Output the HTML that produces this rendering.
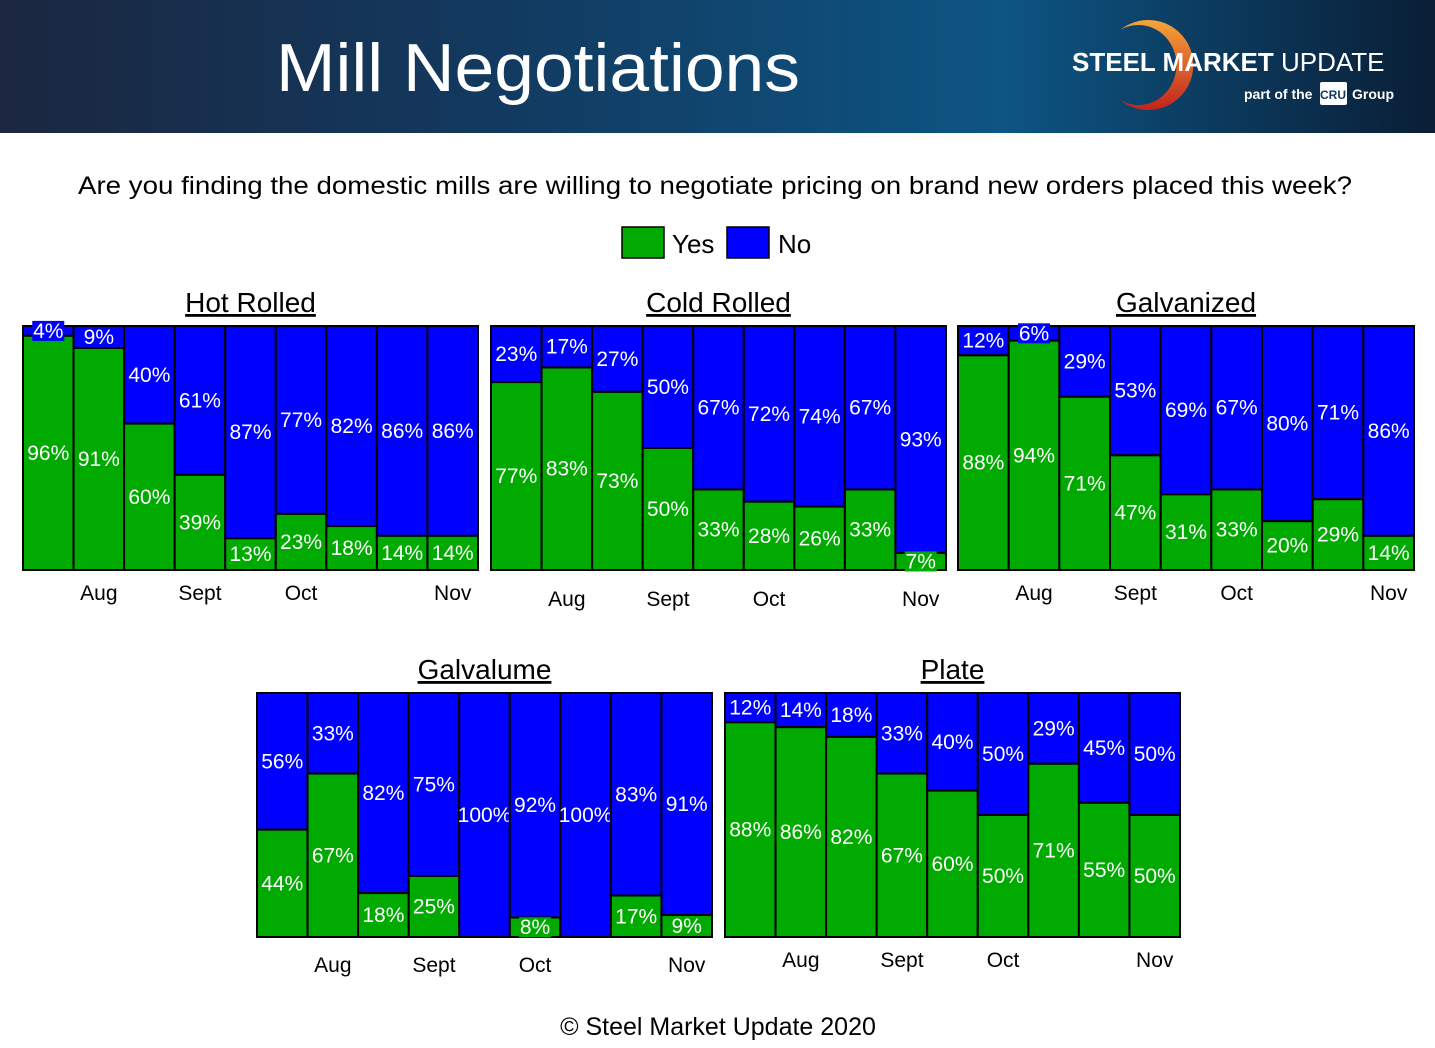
<!DOCTYPE html>
<html><head><meta charset="utf-8"><style>
body{margin:0;width:1435px;height:1048px;background:#fff;overflow:hidden;font-family:"Liberation Sans",sans-serif}
#hdr{position:absolute;left:0;top:0;width:1435px;height:133px;background:linear-gradient(90deg,#1b2740 0%,#123a60 35%,#0d5583 70%,#0a1e36 100%)}
</style></head><body>
<div id="hdr"></div>
<svg id="svg" width="1435" height="1048" style="position:absolute;left:0;top:0">
<text x="276" y="91" font-size="68" fill="#fff" textLength="524" lengthAdjust="spacingAndGlyphs">Mill Negotiations</text>
<g>
<defs><linearGradient id="og" x1="0" y1="0" x2="0" y2="1"><stop offset="0" stop-color="#f6a53a"/><stop offset="1" stop-color="#c2231d"/></linearGradient></defs>
<path d="M1120,30 A45,45 0 1 1 1120,100 A38,40 0 1 0 1120,30 Z" fill="url(#og)"/>
<text x="1072" y="71" font-size="26" fill="#fff" font-weight="bold">STEEL MARKET <tspan font-weight="normal">UPDATE</tspan></text>
<text x="1244" y="99" font-size="14" fill="#fff" font-weight="bold">part of the</text>
<rect x="1320" y="82" width="27" height="23" rx="2" fill="#fff"/>
<text x="1333" y="99" font-size="12" fill="#123a60" font-weight="bold" text-anchor="middle">CRU</text>
<text x="1352" y="99" font-size="14" fill="#fff" font-weight="bold">Group</text>
</g>
<text x="78" y="194" font-size="25" fill="#000" textLength="1274" lengthAdjust="spacingAndGlyphs">Are you finding the domestic mills are willing to negotiate pricing on brand new orders placed this week?</text>
<g>
<rect x="622" y="227" width="42" height="31" fill="#00aa00" stroke="#000" stroke-width="1.5"/>
<text x="672" y="253" font-size="26">Yes</text>
<rect x="727" y="227" width="42" height="31" fill="#0000ff" stroke="#000" stroke-width="1.5"/>
<text x="778" y="253" font-size="26">No</text>
</g>
<g id="charts"></g>
<text x="718" y="1035" font-size="25" text-anchor="middle">© Steel Market Update 2020</text>
</svg>
<script>
const hotRolledYes=[96,91,60,39,13,23,18,14,14];
const coldRolledYes=[77,83,73,50,33,28,26,33,7];
const galvanizedYes=[88,94,71,47,31,33,20,29,14];
const galvalumeYes=[44,67,18,25,0,8,0,17,9];
const plateYes=[88,86,82,67,60,50,71,55,50];
const monthLabels=["Aug","Sept","Oct","Nov"];
const monthBarIndex=[1,3,5,8];
const NS="http://www.w3.org/2000/svg";
const root=document.getElementById('charts');
function mk(t,a,p){const e=document.createElementNS(NS,t);for(const k in a)e.setAttribute(k,a[k]);p.appendChild(e);return e;}
function chart(name,title,yes,x0,y0,w,h,labY){
  const g=mk('g',{},root);
  
  
  const cx=x0+w/2;
  const t=mk('text',{x:cx,y:y0-14,'font-size':28,'text-anchor':'middle','text-decoration':'underline'},g);
  t.textContent=title;
  
  
  const bw=w/yes.length;
  const ys=v=>y0+h-v/100*h;
  yes.forEach((v,i)=>{
    const bx=x0+i*bw, no=100-v;
    const top=ys(v);
    const segs=[[y0,top,'#0000ff',no,'no'],[top,y0+h,'#00aa00',v,'yes']];
    segs.forEach(s=>{
      if(s[3]<=0)return;
      const r=mk('rect',{x:bx,y:s[0],width:bw,height:s[1]-s[0],fill:s[2],stroke:'#000','stroke-width':2},g);
      
      
    });
    segs.forEach(s=>{
      if(s[3]<=0)return;
      const my=(s[0]+s[1])/2;
      if(s[1]-s[0]<24){const lw=s[3]>=10?44:32;mk('rect',{x:bx+bw/2-lw/2,y:my-10,width:lw,height:20,fill:s[2]},g);}
      const l=mk('text',{x:bx+bw/2,y:my+7,'font-size':21,fill:'#fff','text-anchor':'middle'},g);
      l.textContent=s[3]+'%';
      
      
    });
  });
  monthLabels.forEach((m,k)=>{
    const l=mk('text',{x:x0+(monthBarIndex[k]+0.5)*bw,y:labY,'font-size':21,'text-anchor':'middle'},g);
    l.textContent=m;
    
    
  });
}
chart('hot-rolled','Hot Rolled',hotRolledYes,23,326,455,244,600);
chart('cold-rolled','Cold Rolled',coldRolledYes,491,326,455,244,606);
chart('galvanized','Galvanized',galvanizedYes,958,326,456,244,600);
chart('galvalume','Galvalume',galvalumeYes,257,693,455,244,972);
chart('plate','Plate',plateYes,725,693,455,244,967);
</script>
</body></html>
